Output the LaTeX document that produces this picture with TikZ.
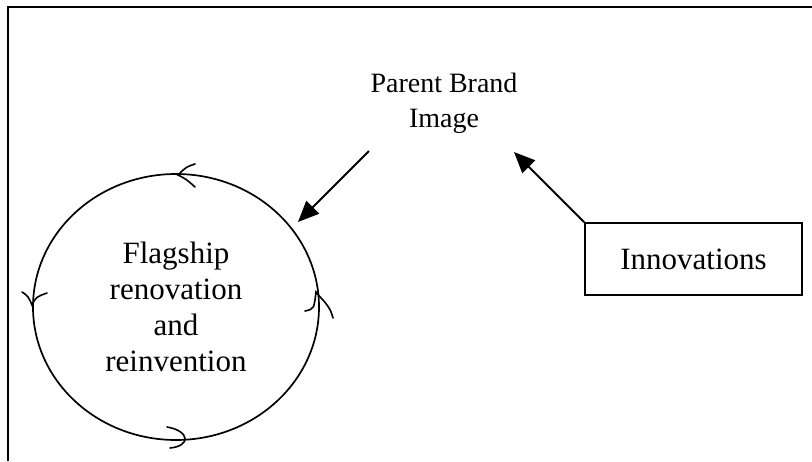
\documentclass[tikz,border=0pt]{standalone}
\usepackage{fontspec}
\setmainfont{Liberation Serif}
\usetikzlibrary{arrows.meta,shapes.geometric}
\tikzset{
  label text/.style={font=\fontsize{31}{36}\selectfont, align=center, inner sep=0pt},
  title text/.style={font=\fontsize{28}{35}\selectfont, align=center, inner sep=0pt},
  frame line/.style={line width=2pt},
  flow arrow/.style={line width=1.8pt, -{Triangle[length=21pt,width=18pt]}},
  loop ring/.style={draw, ellipse, line width=1.7pt, minimum width=286pt, minimum height=266pt, inner sep=0pt},
  tick mark/.style={line width=1.6pt, line cap=round}
}
\begin{document}
\begin{tikzpicture}[x=1pt,y=-1pt]
  \useasboundingbox (0,0) rectangle (812,461);
  % open frame: top and left edges only
  \draw[frame line] (8,461) -- (8,7) -- (812,7);

  % parent brand label
  \node[title text] (brand) at (444,103) {Parent Brand\\Image};

  % flagship cycle
  \node[loop ring] (loop) at (176,307) {};
  \node[label text] (loopText) at (loop.center) {Flagship\\renovation\\and\\reinvention};

  % innovations box
  \node[draw, line width=1.6pt, minimum width=217pt, minimum height=72pt, inner sep=0pt,
        font=\fontsize{31}{36}\selectfont] (innov) at (693.5,259) {Innovations};

  % arrows
  \coordinate (brandTail) at (369,151);
  \coordinate (loopTip) at (298,222);
  \coordinate (brandTip) at (514,152);
  \draw[flow arrow] (brandTail) -- (loopTip);
  \draw[flow arrow] (innov.north west) -- (brandTip);

  % hand-drawn direction ticks around the cycle
  \draw[tick mark] (195,164) .. controls (186,167) .. (178,175) .. controls (186,179) .. (195,187);
  \draw[tick mark] (22,292) .. controls (28,296) .. (32,305) .. controls (36,297) .. (47,293);
  \draw[tick mark] (305,311) .. controls (314,309) .. (316,292) .. controls (322,300) and (330,305) .. (333,318);
  \draw[tick mark] (167,427) .. controls (190,431) and (191,446) .. (170,448);
\end{tikzpicture}
\end{document}
